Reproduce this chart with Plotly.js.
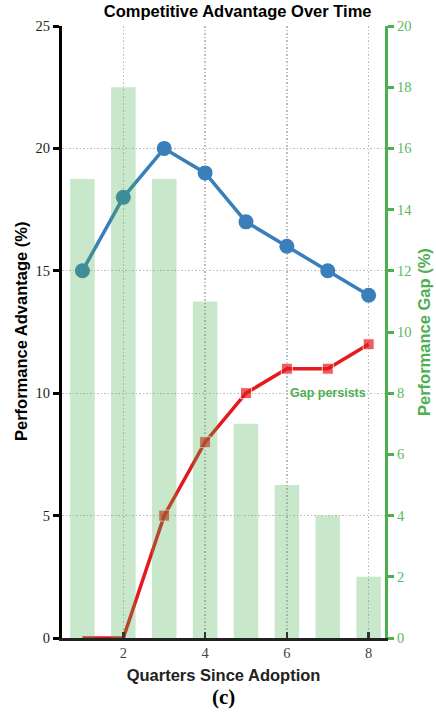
<!DOCTYPE html>
<html>
<head>
<meta charset="utf-8">
<script src="https://cdn.plot.ly/plotly-3.0.1.min.js"></script>
<style>html,body{margin:0;padding:0;background:#fff;}#chart{width:436px;height:715px;}</style>
</head>
<body>
<div id="chart"></div>
<script>
const quarters = [1, 2, 3, 4, 5, 6, 7, 8];
const leaderAdvantage = [15, 18, 20, 19, 17, 16, 15, 14];
const followerAdvantage = [0, 0, 5, 8, 10, 11, 11, 12];
const performanceGap = [15, 18, 15, 11, 7, 5, 4, 2];
const xTicks = [2, 4, 6, 8];
const yTicks = [0, 5, 10, 15, 20, 25];
const y2Ticks = [0, 2, 4, 6, 8, 10, 12, 14, 16, 18, 20];

const serif = "Liberation Serif, DejaVu Serif, serif";
const sans = "Liberation Sans, Arial, sans-serif";
const green = "#4caf50";

const traces = [
  {
    x: quarters, y: leaderAdvantage, type: "scatter", mode: "lines+markers",
    line: {color: "#3a7fb9", width: 3.5},
    marker: {color: "#3a7fb9", size: 15},
    showlegend: false, cliponaxis: false
  },
  {
    x: quarters, y: followerAdvantage, type: "scatter", mode: "lines+markers",
    line: {color: "#e41a1c", width: 3.5},
    marker: {color: "#e41a1c", symbol: "square", size: followerAdvantage.map(v => v > 0 ? 11 : 0)},
    showlegend: false, cliponaxis: false
  },
  {
    x: quarters, y: performanceGap, type: "bar", yaxis: "y2",
    width: 0.6,
    marker: {color: "rgba(76,175,80,0.3)", line: {width: 0}},
    showlegend: false
  }
];

const layout = {
  width: 436, height: 715,
  margin: {l: 62, r: 51, t: 26, b: 77},
  paper_bgcolor: "#fff", plot_bgcolor: "#fff",
  title: {text: "<b>Competitive Advantage Over Time</b>", font: {family: sans, size: 16.5, color: "#000"}, x: 0.545, xanchor: "center", y: 0.993, yanchor: "top"},
  xaxis: {
    range: [0.5, 8.4], tickvals: xTicks, ticktext: xTicks.map(String),
    ticks: "inside", ticklen: 6, tickwidth: 2.5, tickcolor: "#333",
    showline: true, linecolor: "#222", linewidth: 3,
    showgrid: true, gridcolor: "#bdbdbd", griddash: "1.5px,2px", gridwidth: 1.3,
    zeroline: false,
    tickfont: {family: serif, size: 14.5, color: "#444"},
    title: {text: "<b>Quarters Since Adoption</b>", font: {family: sans, size: 16.5, color: "#222"}, standoff: 10}
  },
  yaxis: {
    range: [0, 25], tickvals: yTicks,
    ticks: "outside", ticklen: 6, tickwidth: 3, tickcolor: "#000",
    showline: true, linecolor: "#000", linewidth: 3,
    showgrid: true, gridcolor: "#bdbdbd", griddash: "1.5px,2px", gridwidth: 1.3,
    zeroline: false,
    tickfont: {family: serif, size: 14.5, color: "#222"}
  },
  yaxis2: {
    range: [0, 20], tickvals: y2Ticks, overlaying: "y", side: "right",
    ticks: "outside", ticklen: 6, tickwidth: 3, tickcolor: green,
    showline: true, linecolor: green, linewidth: 3,
    showgrid: false, zeroline: false,
    tickfont: {family: serif, size: 14.5, color: "#5cb85c"}
  },
  annotations: [
    {x: 0, y: 0.5, xref: "paper", yref: "paper", xshift: -41, textangle: -90,
     text: "<b>Performance Advantage (%)</b>", showarrow: false,
     font: {family: sans, size: 16.5, color: "#000"}, xanchor: "center", yanchor: "middle"},
    {x: 1, y: 0.5, xref: "paper", yref: "paper", xshift: 39, textangle: -90,
     text: "<b>Performance Gap (%)</b>", showarrow: false,
     font: {family: sans, size: 16.5, color: green}, xanchor: "center", yanchor: "middle"},
    {x: 7, y: 8, yref: "y2", xref: "x", text: "<b>Gap persists</b>", showarrow: false,
     font: {family: sans, size: 12.5, color: green}, xanchor: "center", yanchor: "middle"},
    {x: 0.5, y: 0, xref: "paper", yref: "paper", yshift: -59, text: "<b>(c)</b>", showarrow: false,
     font: {family: serif, size: 21, color: "#000"}, xanchor: "center", yanchor: "middle"}
  ]
};

Plotly.newPlot("chart", traces, layout, {displayModeBar: false, staticPlot: true});
</script>
</body>
</html>
